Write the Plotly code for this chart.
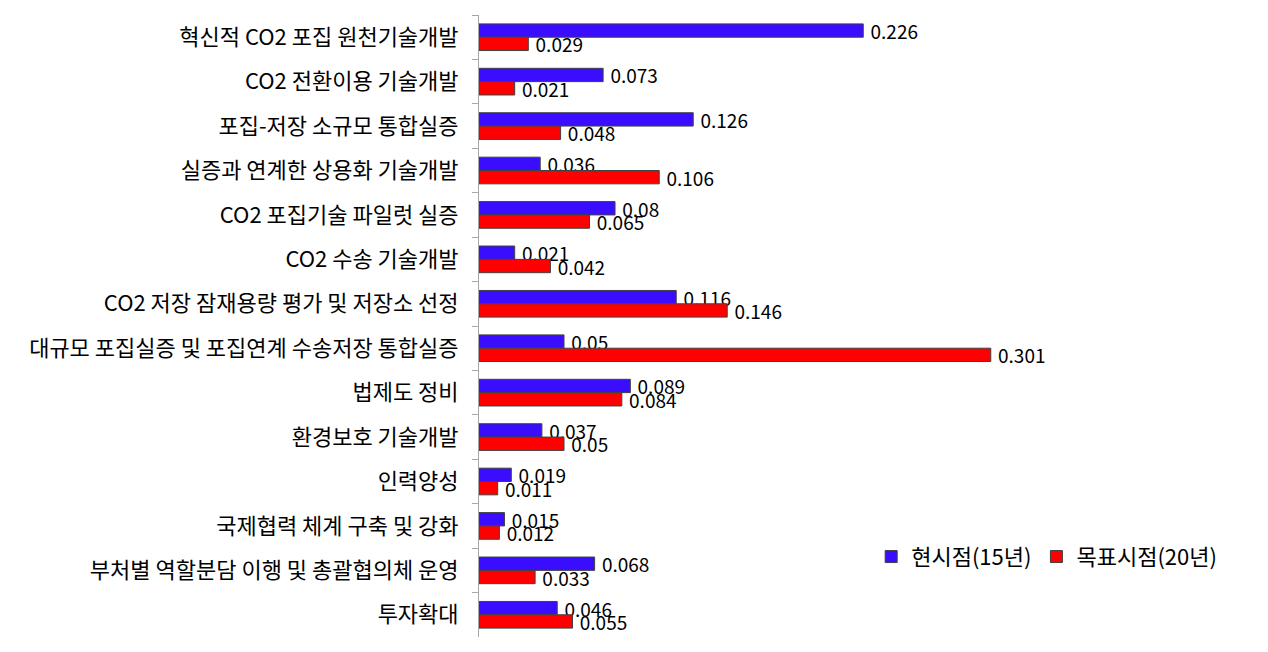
import plotly.graph_objects as go

categories = [
    "혁신적 CO2 포집 원천기술개발",
    "CO2 전환이용 기술개발",
    "포집-저장 소규모 통합실증",
    "실증과 연계한 상용화 기술개발",
    "CO2 포집기술 파일럿 실증",
    "CO2 수송 기술개발",
    "CO2 저장 잠재용량 평가 및 저장소 선정",
    "대규모 포집실증 및 포집연계 수송저장 통합실증",
    "법제도 정비",
    "환경보호 기술개발",
    "인력양성",
    "국제협력 체계 구축 및 강화",
    "부처별 역할분담 이행 및 총괄협의체 운영",
    "투자확대",
]
current = [0.226, 0.073, 0.126, 0.036, 0.08, 0.021, 0.116, 0.05, 0.089, 0.037, 0.019, 0.015, 0.068, 0.046]
target = [0.029, 0.021, 0.048, 0.106, 0.065, 0.042, 0.146, 0.301, 0.084, 0.05, 0.011, 0.012, 0.033, 0.055]
series_names = ["현시점(15년)", "목표시점(20년)"]

font = "Noto Sans CJK KR, Noto Sans, sans-serif"

fig = go.Figure()
for name, vals, color in [(series_names[0], current, "#3A0DFF"), (series_names[1], target, "#FF0000")]:
    fig.add_trace(go.Bar(
        y=categories, x=vals, name=name, orientation="h",
        marker=dict(color=color, line=dict(color="#404040", width=1)),
        text=["\u00a0" + str(v) for v in vals], textposition="outside",
        textfont=dict(size=19, color="black", family=font),
        constraintext="none", cliponaxis=False,
    ))

fig.update_layout(
    width=1268, height=652,
    margin=dict(l=479, r=29, t=15, b=15),
    paper_bgcolor="white", plot_bgcolor="white",
    barmode="group", bargap=0.4, bargroupgap=0,
    font=dict(family=font, size=18, color="black"),
    showlegend=True,
    legend=dict(orientation="h", x=0.516, y=0.129, xanchor="left", yanchor="middle",
                font=dict(size=22, family=font), bgcolor="rgba(0,0,0,0)",
                traceorder="normal"),
    xaxis=dict(range=[0, 0.447], showticklabels=False, showgrid=False, zeroline=False,
               showline=False, ticks=""),
    yaxis=dict(autorange="reversed", showline=True, linecolor="#A6A6A6", linewidth=1,
               ticks="outside", tickson="boundaries", ticklen=6, tickcolor="#A6A6A6",
               tickfont=dict(size=22, family=font), showgrid=False, ticklabelstandoff=15),
)

fig.write_html("out.html")
